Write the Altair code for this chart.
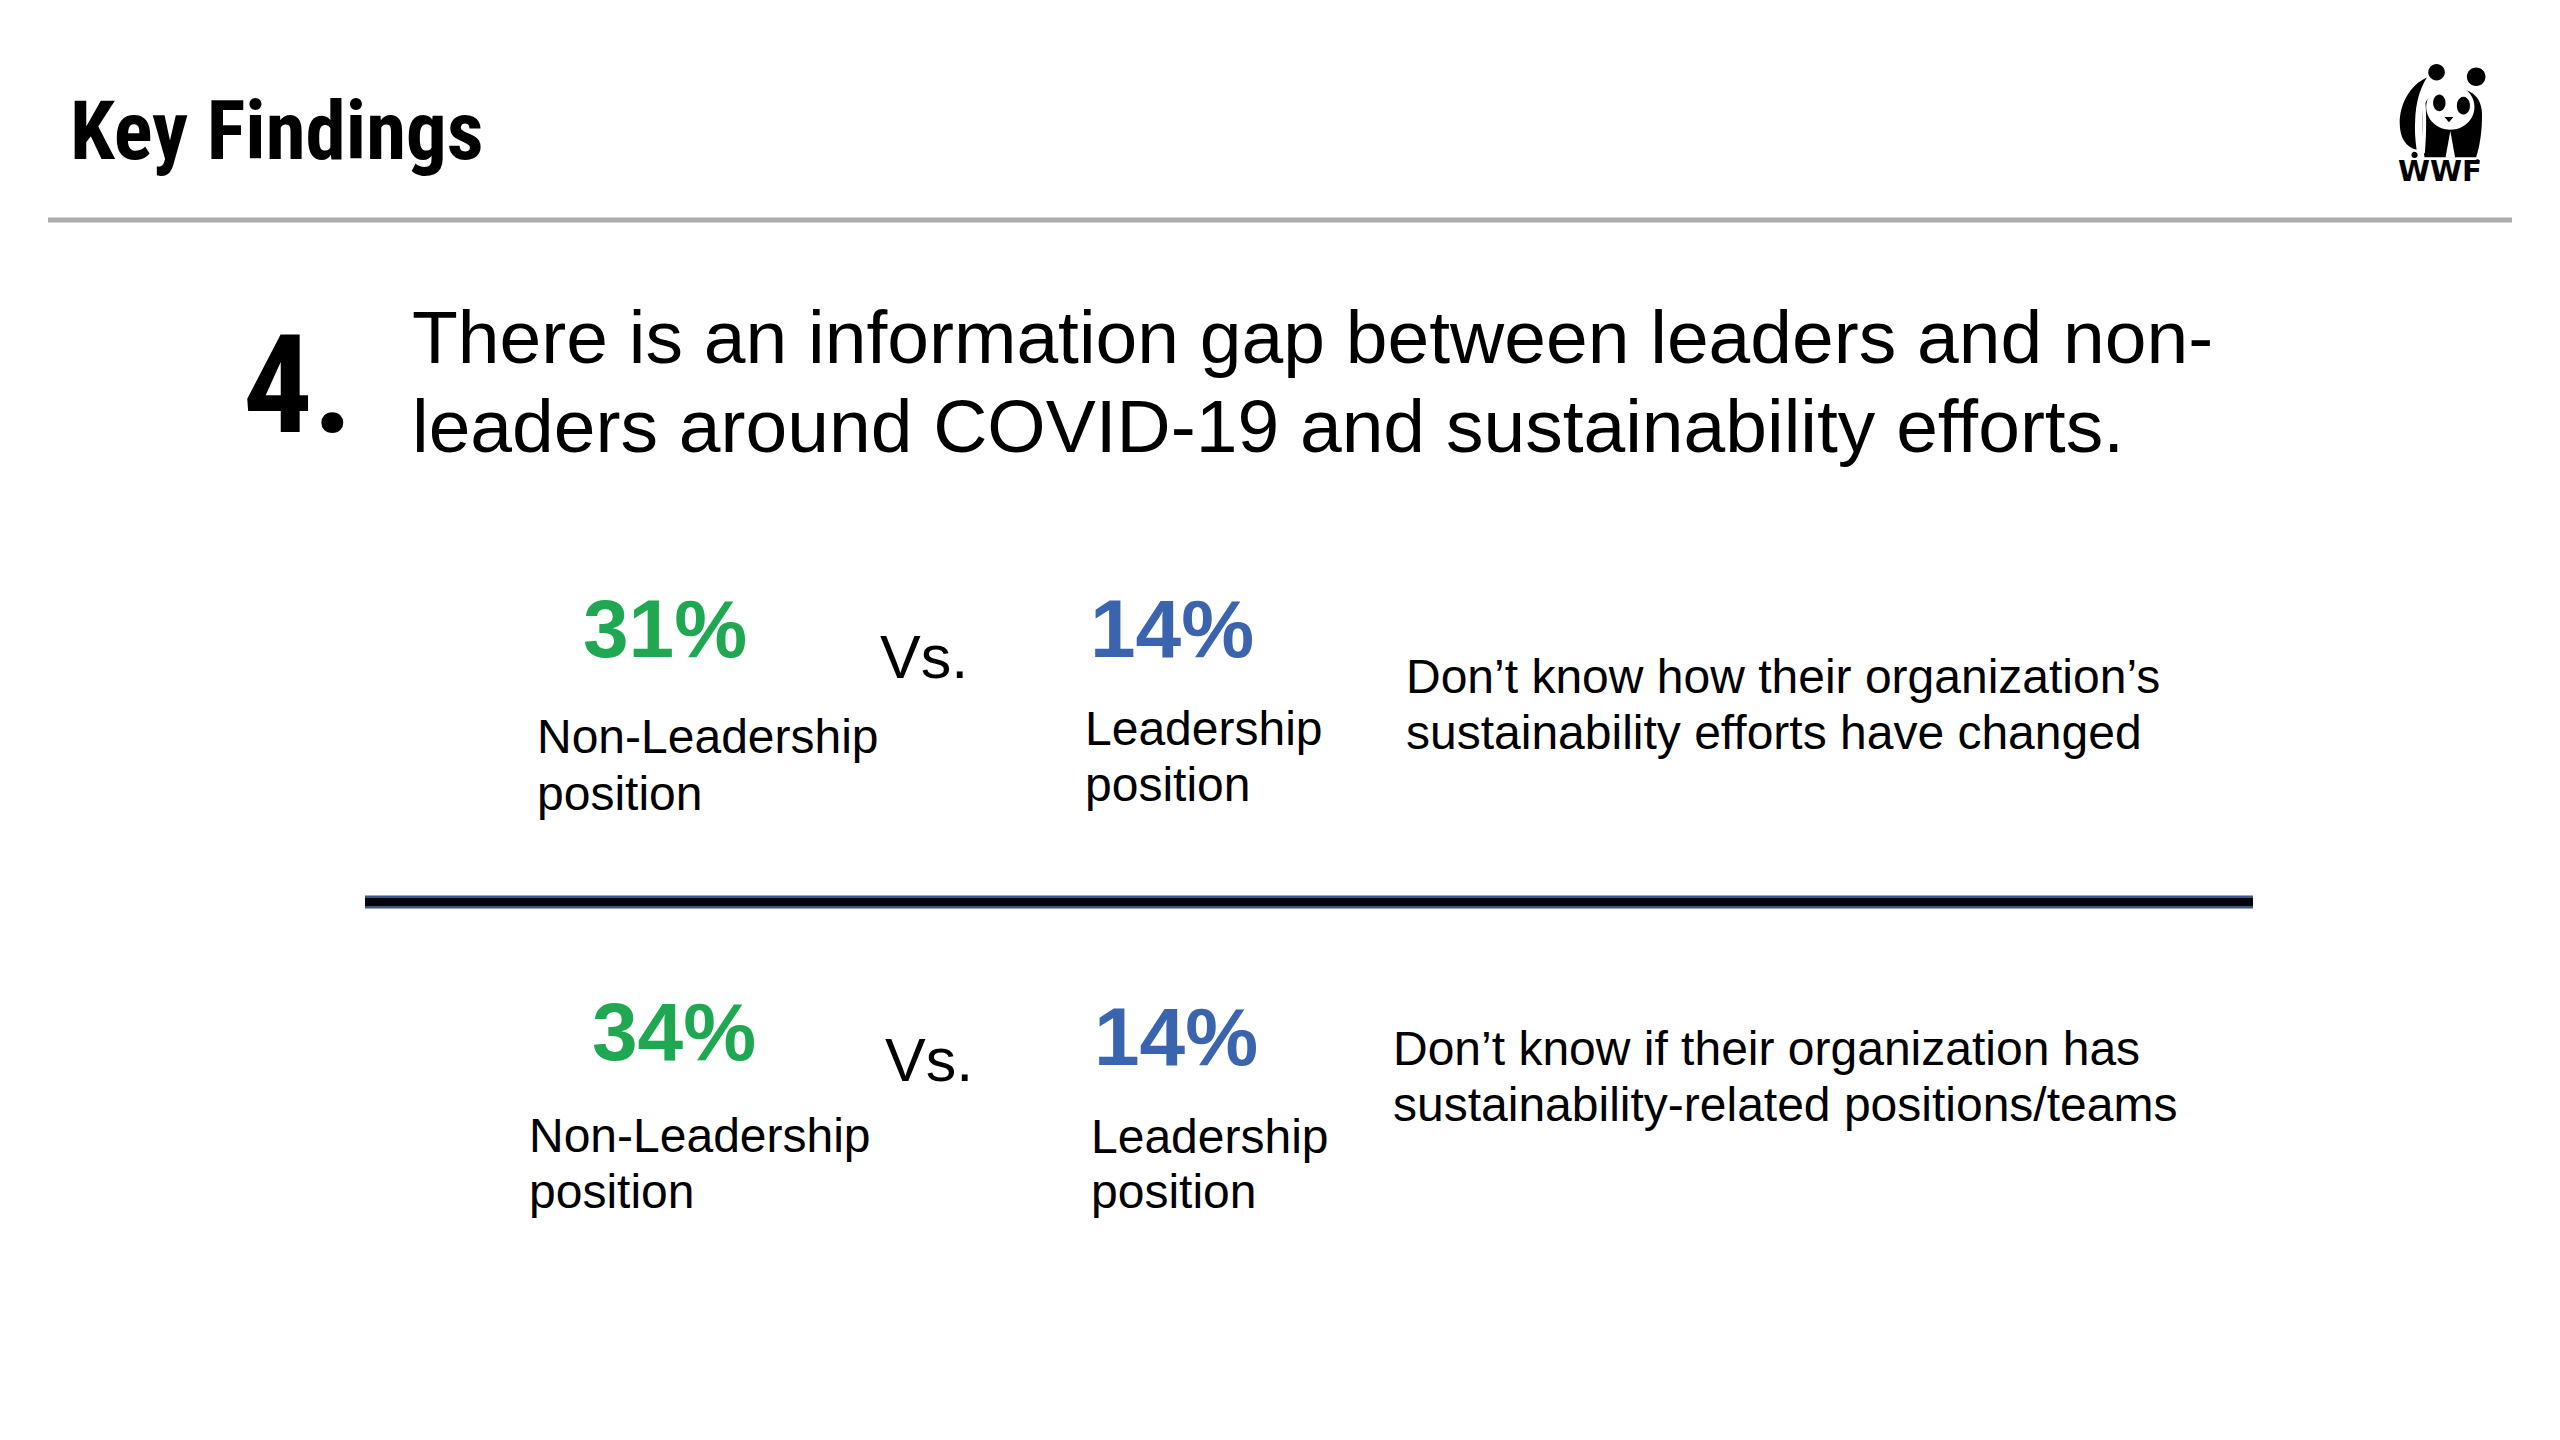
import altair as alt
import pandas as pd

# ---------------- content ----------------
title_text = ["Key Findings"]
finding_number = ["4."]
headline_lines = [
    "There is an information gap between leaders and non-",
    "leaders around COVID-19 and sustainability efforts.",
]
non_leader_pct = ["31%", "34%"]
leader_pct = ["14%", "14%"]
versus = ["Vs.", "Vs."]
non_leader_label = ["Non-Leadership", "position"]
leader_label = ["Leadership", "position"]
descriptions = [
    ["Don\u2019t know how their organization\u2019s", "sustainability efforts have changed"],
    ["Don\u2019t know if their organization has", "sustainability-related positions/teams"],
]
logo_text = ["WWF"]

# ---------------- layout (page pixels) ----------------
W, H = 2544, 1400
GREEN = "#1fa851"
BLUE = "#3a64ae"
NARROW = "Roboto Condensed, Liberation Sans Narrow, DejaVu Sans Condensed, sans-serif"
ARIAL = "Liberation Sans, Arial, sans-serif"

title_pos = (70, 159, 81)
number_pos = (243, 432, 138)
head_x, head_base, head_size = 412, [363, 452], 75

pct_size, vs_size, label_size, desc_size = 82, 61, 48, 48
pct_nl_x, pct_nl_base = [583, 592], [657, 1060]
pct_l_x, pct_l_base = [1090, 1094], [657, 1065]
vs_x, vs_base = [880, 885], [678, 1081]
nl_label_x, nl_label_base = [537, 529], [[753, 810], [1152, 1208]]
l_label_x, l_label_base = [1085, 1091], [[745, 801], [1153, 1208]]
desc_x, desc_base = [1406, 1393], [[693, 749], [1065, 1121]]

xs = alt.Scale(domain=[8, 8 + W], nice=False, zero=False)
ys = alt.Scale(domain=[8, 8 + H], nice=False, zero=False, reverse=True)
X = lambda f="x": alt.X(f"{f}:Q", scale=xs, axis=None)
Y = lambda f="y": alt.Y(f"{f}:Q", scale=ys, axis=None)

# ---------------- text tables ----------------
narrow_rows = [
    dict(text=title_text[0], x=title_pos[0], y=title_pos[1], size=title_pos[2]),
    dict(text=finding_number[0], x=number_pos[0], y=number_pos[1], size=number_pos[2]),
]

regular_rows = []
for t, b in zip(headline_lines, head_base):
    regular_rows.append(dict(text=t, x=head_x, y=b, size=head_size))
for i in range(2):
    regular_rows.append(dict(text=versus[i], x=vs_x[i], y=vs_base[i], size=vs_size))
    for t, b in zip(non_leader_label, nl_label_base[i]):
        regular_rows.append(dict(text=t, x=nl_label_x[i], y=b, size=label_size))
    for t, b in zip(leader_label, l_label_base[i]):
        regular_rows.append(dict(text=t, x=l_label_x[i], y=b, size=label_size))
    for t, b in zip(descriptions[i], desc_base[i]):
        regular_rows.append(dict(text=t, x=desc_x[i], y=b, size=desc_size))

pct_rows = []
for i in range(2):
    pct_rows.append(dict(text=non_leader_pct[i], x=pct_nl_x[i], y=pct_nl_base[i], color=GREEN))
    pct_rows.append(dict(text=leader_pct[i], x=pct_l_x[i], y=pct_l_base[i], color=BLUE))

def text_layer(rows, font, weight, with_color=False, fixed_size=None):
    df = pd.DataFrame(rows)
    enc = dict(x=X(), y=Y(), text="text:N")
    if fixed_size is None:
        mk = alt.Chart(df).mark_text(align="left", baseline="alphabetic", font=font,
                                     fontWeight=weight, color="#000000")
        enc["size"] = alt.Size("size:Q", scale=None, legend=None)
    else:
        mk = alt.Chart(df).mark_text(align="left", baseline="alphabetic", font=font,
                                     fontWeight=weight, fontSize=fixed_size)
    if with_color:
        enc["color"] = alt.Color("color:N", scale=None, legend=None)
    return mk.encode(**enc)

narrow_layer = text_layer(narrow_rows, NARROW, "bold")
regular_layer = text_layer(regular_rows, ARIAL, "normal")
pct_layer = text_layer(pct_rows, ARIAL, "bold", with_color=True, fixed_size=pct_size)

# ---------------- rules ----------------
gray_rule = pd.DataFrame([dict(x=48, x2=2512, y=220)])
dark_rule = pd.DataFrame([dict(x=365, x2=2253, y=902)])

gray_layer = alt.Chart(gray_rule).mark_rule(color="#ababab", strokeWidth=5).encode(
    x=X(), x2="x2:Q", y=Y())
dark_outer = alt.Chart(dark_rule).mark_rule(color="#3f5787", strokeWidth=13).encode(
    x=X(), x2="x2:Q", y=Y())
dark_inner = alt.Chart(dark_rule).mark_rule(color="#04040c", strokeWidth=8).encode(
    x=X(), x2="x2:Q", y=Y())

# ---------------- WWF panda logo (decorative shapes) ----------------
def u(v):
    return f"{(v - 300) / 180:.4f}"

def vv(v):
    return f"{(v - 255) / 180:.4f}"

def path(cmds):
    out = []
    for c, pts in cmds:
        out.append(c + " ".join(f"{u(a)},{vv(b)}" for a, b in pts))
    return "".join(out) + "Z"

def ellipse(cx, cy, rx, ry):
    a, b = rx / 180, ry / 180
    return (f"M{u(cx - rx)},{vv(cy)}A{a:.4f},{b:.4f} 0 1 0 {u(cx + rx)},{vv(cy)}"
            f"A{a:.4f},{b:.4f} 0 1 0 {u(cx - rx)},{vv(cy)}Z")

body = path([("M", [(248, 250)]),
             ("C", [(248, 200), (290, 172), (340, 172)]),
             ("C", [(395, 172), (422, 200), (422, 250)]),
             ("C", [(422, 300), (415, 340), (405, 372)]),
             ("L", [(255, 372)]),
             ("C", [(250, 340), (248, 300), (248, 250)])])
face = ellipse(330, 226, 70, 66)
arm = path([("M", [(262, 140)]),
            ("C", [(215, 160), (183, 215), (183, 272)]),
            ("C", [(183, 315), (200, 343), (232, 350)]),
            ("C", [(228, 320), (226, 290), (228, 262)]),
            ("C", [(230, 215), (240, 175), (262, 140)])])
stripe = path([("M", [(238, 170)]),
               ("C", [(252, 200), (250, 300), (246, 360)]),
               ("L", [(256, 360)]),
               ("C", [(262, 300), (262, 200), (250, 162)])])
belly = path([("M", [(316, 373)]), ("L", [(330, 296), (344, 373)])])
nose = path([("M", [(313, 255)]), ("L", [(339, 255), (326, 270)])])

logo_parts = pd.DataFrame([
    dict(shape=body, fill="#000000"),
    dict(shape=face, fill="#ffffff"),
    dict(shape=stripe, fill="#ffffff"),
    dict(shape=arm, fill="#000000"),
    dict(shape=ellipse(290, 125, 24, 24), fill="#000000"),
    dict(shape=ellipse(405, 138, 27, 27), fill="#000000"),
    dict(shape=ellipse(298, 214, 18, 24), fill="#000000"),
    dict(shape=ellipse(368, 222, 19, 25), fill="#000000"),
    dict(shape=nose, fill="#000000"),
    dict(shape=belly, fill="#ffffff"),
    dict(shape=ellipse(226, 365, 9, 9), fill="#000000"),
    dict(shape=ellipse(409, 384, 6, 6), fill="#000000"),
])
logo_parts["x"] = 2440
logo_parts["y"] = 117
logo_parts["order"] = range(len(logo_parts))

logo_layer = alt.Chart(logo_parts).mark_point(filled=True, opacity=1, strokeWidth=0,
                                              size=124 * 124).encode(
    x=X(), y=Y(),
    shape=alt.Shape("shape:N", scale=None, legend=None),
    color=alt.Color("fill:N", scale=None, legend=None),
    order=alt.Order("order:Q"),
)

logo_word = alt.Chart(pd.DataFrame([dict(text=logo_text[0], x=2440, y=181)])).mark_text(
    align="center", baseline="alphabetic", font="DejaVu Sans", fontWeight="bold",
    fontSize=29, color="#000000").encode(x=X(), y=Y(), text="text:N")

chart = alt.layer(
    gray_layer, dark_outer, dark_inner, logo_layer, logo_word,
    narrow_layer, regular_layer, pct_layer,
).properties(width=W, height=H, padding=0, background="white").configure_view(stroke=None)

chart.save("out.html", embed_options={"renderer": "svg", "actions": False})
